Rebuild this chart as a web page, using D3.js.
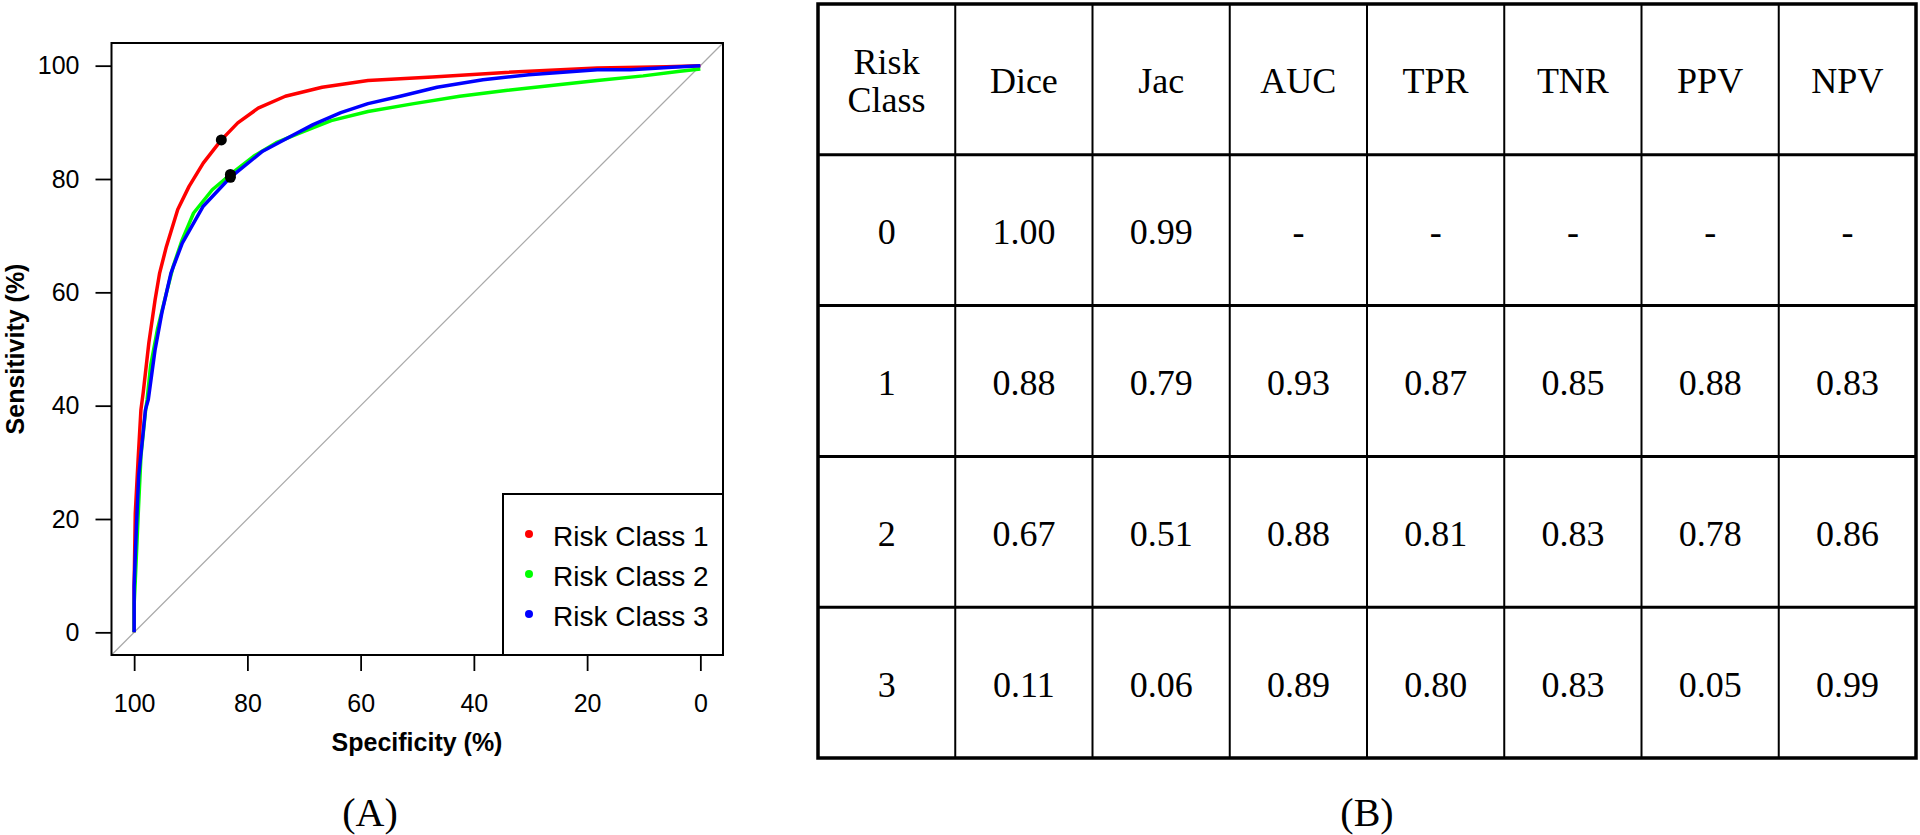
<!DOCTYPE html>
<html>
<head>
<meta charset="utf-8">
<script src="https://cdn.jsdelivr.net/npm/d3@7"></script>
<style>
  body { margin: 0; background: #fff; }
</style>
</head>
<body>
<svg id="chart" width="1920" height="835"></svg>
<script>
// ROC curves, [specificity %, sensitivity %]
const roc1 = [[100,0],[100,8],[99.8,21],[99.3,30.5],[98.8,39.3],[98.4,42.3],[97.4,51.1],[96.3,58.7],[95.5,63.4],[94.3,68.1],[92.3,74.6],[90.3,78.7],[87.8,82.8],[84.6,86.9],[81.7,89.9],[78.1,92.5],[73.3,94.6],[66.8,96.2],[58.7,97.4],[47.3,98.0],[34.4,98.8],[18.2,99.6],[6,99.8],[0,100]];
const roc2 = [[100,0],[100,5],[99.8,9.1],[99.3,20.5],[98.8,31.1],[98.0,39],[97.7,41.1],[97.1,47.0],[95.9,53.4],[94.3,59.9],[93.1,64.6],[91.5,69.3],[89.5,74.0],[86.2,78.1],[83,80.8],[78.9,84.0],[74.9,86.4],[70.8,88.1],[65.2,90.3],[58.7,91.9],[50.6,93.3],[42.5,94.6],[34.4,95.6],[26.3,96.5],[18.2,97.4],[10.1,98.2],[3.6,99.0],[0,99.4]];
const roc3 = [[100,0],[100,8.2],[99.6,18.7],[99.2,27.6],[98,39.3],[97.5,41.1],[96.3,49.9],[95.1,56.4],[93.5,63.4],[91.5,68.7],[87.8,75.2],[83,80.3],[77.3,84.9],[72.4,87.5],[68.4,89.6],[63.5,91.7],[58.7,93.3],[53.0,94.6],[46.5,96.2],[38.4,97.5],[30.3,98.4],[18.2,99.3],[12.3,99.3],[5,99.7],[0,100]];
const seriesNames = ['Risk Class 1', 'Risk Class 2', 'Risk Class 3'];
const seriesColors = ['#ff0000', '#00ff00', '#0000ff'];
const cutSpec = [84.6, 83, 83];
const cutSens = [86.9, 80.8, 80.3];
const specTicks = [100, 80, 60, 40, 20, 0];
const sensTicks = [0, 20, 40, 60, 80, 100];

// table
const tableHeader = ['Risk Class', 'Dice', 'Jac', 'AUC', 'TPR', 'TNR', 'PPV', 'NPV'];
const riskClass = ['0', '1', '2', '3'];
const dice = ['1.00', '0.88', '0.67', '0.11'];
const jac  = ['0.99', '0.79', '0.51', '0.06'];
const auc  = ['-', '0.93', '0.88', '0.89'];
const tpr  = ['-', '0.87', '0.81', '0.80'];
const tnr  = ['-', '0.85', '0.83', '0.83'];
const ppv  = ['-', '0.88', '0.78', '0.05'];
const npv  = ['-', '0.83', '0.86', '0.99'];

const svg = d3.select('#chart');
const sans = 'Arial, "Liberation Sans", sans-serif';
const serif = '"Times New Roman", "Liberation Serif", serif';

// ---------- (A) ROC plot ----------
const x = d3.scaleLinear().domain([104, -4]).range([111.5, 723]);
const y = d3.scaleLinear().domain([-4, 104]).range([655, 43]);

const plot = svg.append('g');

// identity diagonal
plot.append('line')
  .attr('x1', x(104)).attr('y1', y(-4))
  .attr('x2', x(-4)).attr('y2', y(104))
  .attr('stroke', '#a9a9a9').attr('stroke-width', 1.2);

const line = d3.line().x(d => x(d[0])).y(d => y(d[1]));
[roc1, roc2, roc3].forEach((d, i) => {
  plot.append('path')
    .datum(d)
    .attr('d', line)
    .attr('fill', 'none')
    .attr('stroke', seriesColors[i])
    .attr('stroke-width', 3.5)
    .attr('stroke-linejoin', 'round');
});

plot.selectAll('circle.cut')
  .data(cutSpec)
  .enter()
  .append('circle')
  .attr('class', 'cut')
  .attr('cx', d => x(d))
  .attr('cy', (d, i) => y(cutSens[i]))
  .attr('r', 5.5)
  .attr('fill', 'black');

// box
plot.append('rect')
  .attr('x', x(104)).attr('y', y(104))
  .attr('width', x(-4) - x(104)).attr('height', y(-4) - y(104))
  .attr('fill', 'none').attr('stroke', 'black').attr('stroke-width', 2);

// axes
const yAxis = plot.append('g')
  .attr('transform', `translate(${x(104)},0)`)
  .call(d3.axisLeft(y).tickValues(sensTicks).tickSize(16).tickPadding(16));
const xAxis = plot.append('g')
  .attr('transform', `translate(0,${y(-4)})`)
  .call(d3.axisBottom(x).tickValues(specTicks).tickSize(16).tickPadding(23));
[xAxis, yAxis].forEach(g => {
  g.select('.domain').remove();
  g.selectAll('line').attr('stroke', 'black').attr('stroke-width', 1.8);
  g.selectAll('text').attr('font-family', sans).attr('font-size', 25).attr('fill', 'black');
});

plot.append('text')
  .attr('x', 417).attr('y', 751)
  .attr('text-anchor', 'middle')
  .attr('font-family', sans).attr('font-size', 25).attr('font-weight', 'bold')
  .text('Specificity (%)');

plot.append('text')
  .attr('transform', `translate(24,${(y(0) + y(100)) / 2}) rotate(-90)`)
  .attr('text-anchor', 'middle')
  .attr('font-family', sans).attr('font-size', 25).attr('font-weight', 'bold')
  .text('Sensitivity (%)');

// legend
const legX = 503, legY = 494;
const leg = plot.append('g');
leg.append('rect')
  .attr('x', legX).attr('y', legY)
  .attr('width', x(-4) - legX).attr('height', y(-4) - legY)
  .attr('fill', 'white').attr('stroke', 'black').attr('stroke-width', 2);
leg.selectAll('circle')
  .data(seriesNames)
  .enter()
  .append('circle')
  .attr('cx', legX + 26)
  .attr('cy', (d, i) => legY + 40 + i * 40)
  .attr('r', 4)
  .attr('fill', (d, i) => seriesColors[i]);
leg.selectAll('text')
  .data(seriesNames)
  .enter()
  .append('text')
  .attr('x', legX + 50)
  .attr('y', (d, i) => legY + 52 + i * 40)
  .attr('font-family', sans).attr('font-size', 28)
  .attr('fill', 'black')
  .text(d => d);

plot.append('text')
  .attr('x', 370).attr('y', 826)
  .attr('text-anchor', 'middle')
  .attr('font-family', serif).attr('font-size', 40)
  .text('(A)');

// ---------- (B) table ----------
const rowKeys = ['head'].concat(riskClass);
const cx = d3.scaleBand().domain(tableHeader).range([818, 1916]);
const cy = d3.scaleBand().domain(rowKeys).range([4, 758]);
const columns = [riskClass, dice, jac, auc, tpr, tnr, ppv, npv];

const table = svg.append('g');

// cell text
riskClass.forEach((rc, r) => {
  table.selectAll(null)
    .data(columns)
    .enter()
    .append('text')
    .attr('x', (col, c) => cx(tableHeader[c]) + cx.bandwidth() / 2)
    .attr('y', cy(rc) + cy.bandwidth() / 2 + 2)
    .attr('text-anchor', 'middle')
    .attr('dominant-baseline', 'central')
    .attr('font-family', serif).attr('font-size', 36)
    .attr('fill', 'black')
    .text(col => col[r]);
});

// header text
table.selectAll('text.head')
  .data(tableHeader)
  .enter()
  .append('text')
  .attr('class', 'head')
  .attr('x', d => cx(d) + cx.bandwidth() / 2)
  .attr('y', cy('head') + cy.bandwidth() / 2 + 2)
  .attr('text-anchor', 'middle')
  .attr('dominant-baseline', 'central')
  .attr('font-family', serif).attr('font-size', 36)
  .attr('fill', 'black')
  .each(function(d) {
    const words = d.split(' ');
    const t = d3.select(this);
    if (words.length === 1) { t.text(d); return; }
    words.forEach((w, k) => {
      t.append('tspan')
        .attr('x', cx(d) + cx.bandwidth() / 2)
        .attr('dy', k === 0 ? -19 : 38)
        .text(w);
    });
  });

// grid lines
table.selectAll('line.h')
  .data(rowKeys.slice(1))
  .enter()
  .append('line')
  .attr('class', 'h')
  .attr('x1', cx.range()[0]).attr('x2', cx.range()[1])
  .attr('y1', d => cy(d)).attr('y2', d => cy(d))
  .attr('stroke', 'black').attr('stroke-width', 3);
table.selectAll('line.v')
  .data(tableHeader.slice(1))
  .enter()
  .append('line')
  .attr('class', 'v')
  .attr('y1', cy.range()[0]).attr('y2', cy.range()[1])
  .attr('x1', d => cx(d)).attr('x2', d => cx(d))
  .attr('stroke', 'black').attr('stroke-width', 2);
table.append('rect')
  .attr('x', cx.range()[0]).attr('y', cy.range()[0])
  .attr('width', cx.range()[1] - cx.range()[0])
  .attr('height', cy.range()[1] - cy.range()[0])
  .attr('fill', 'none').attr('stroke', 'black').attr('stroke-width', 3.5);

table.append('text')
  .attr('x', (cx.range()[0] + cx.range()[1]) / 2).attr('y', 826)
  .attr('text-anchor', 'middle')
  .attr('font-family', serif).attr('font-size', 40)
  .text('(B)');
</script>
</body>
</html>
